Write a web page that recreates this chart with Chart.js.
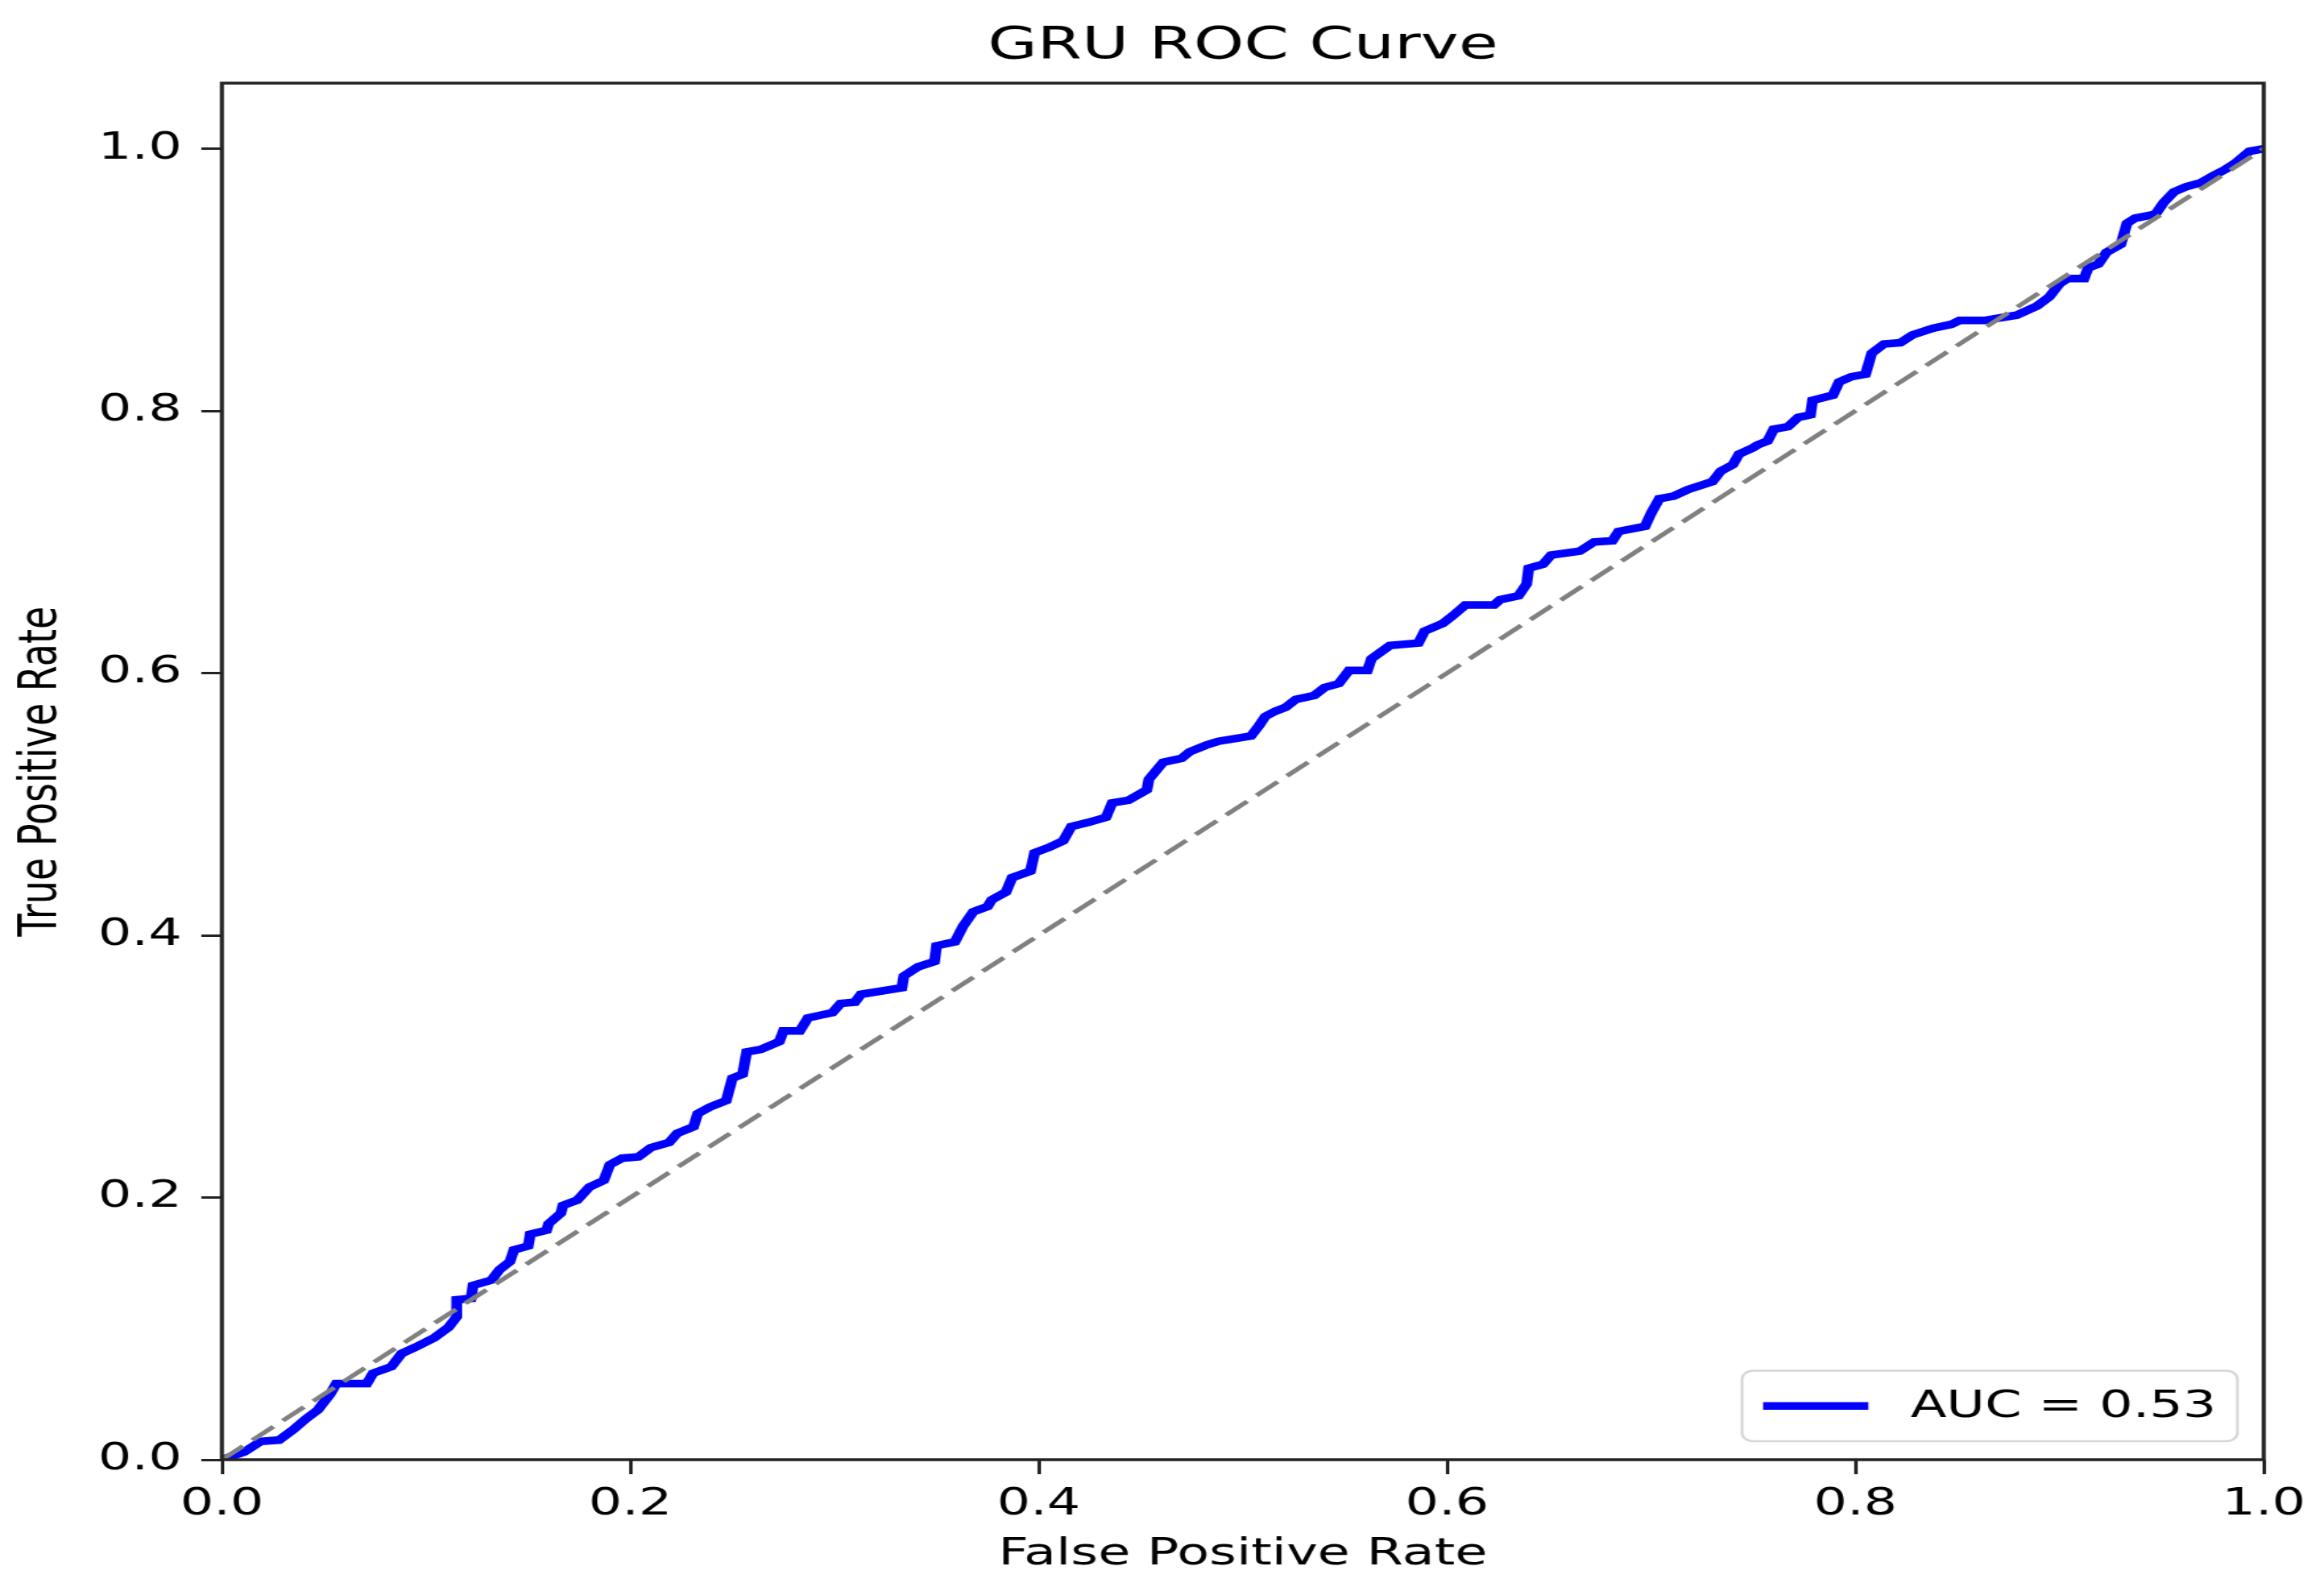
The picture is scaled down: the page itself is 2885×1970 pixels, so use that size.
<!DOCTYPE html>
<html lang="en">
<head>
  <meta charset="UTF-8" />
  <title>GRU ROC Curve</title>
  <script src="https://cdn.jsdelivr.net/npm/chart.js"></script>
  <style>
    html, body {
      margin: 0;
      padding: 0;
      background: #ffffff;
      overflow: hidden;
    }
    /* the reference picture is stretched sideways, so the chart is drawn narrow and widened */
    .stretch {
      width: 2032px;
      height: 1970px;
      transform: scaleX(1.42);
      transform-origin: 0 0;
    }
  </style>
</head>
<body>
  <div class="stretch">
    <canvas id="rocChart" width="2032" height="1970" style="width:2032px;height:1970px;"></canvas>
  </div>

  <script>
    const fpr = [
      0, 0.011, 0.019, 0.028, 0.035, 0.041, 0.047, 0.053, 0.056, 0.071,
      0.074, 0.083, 0.088, 0.095, 0.104, 0.111, 0.115, 0.115, 0.122, 0.123,
      0.132, 0.136, 0.141, 0.143, 0.150, 0.151, 0.159, 0.160, 0.166, 0.167,
      0.174, 0.180, 0.187, 0.190, 0.196, 0.204, 0.210, 0.219, 0.223, 0.231,
      0.233, 0.239, 0.247, 0.250, 0.255, 0.257, 0.264, 0.273, 0.275, 0.283,
      0.287, 0.299, 0.303, 0.310, 0.313, 0.333, 0.334, 0.341, 0.349, 0.350,
      0.359, 0.363, 0.368, 0.375, 0.377, 0.384, 0.387, 0.396, 0.398, 0.405,
      0.412, 0.416, 0.424, 0.433, 0.436, 0.444, 0.453, 0.454, 0.461, 0.470,
      0.474, 0.482, 0.488, 0.504, 0.508, 0.511, 0.516, 0.521, 0.526, 0.535,
      0.540, 0.547, 0.552, 0.561, 0.563, 0.572, 0.586, 0.589, 0.598, 0.603,
      0.609, 0.623, 0.626, 0.635, 0.639, 0.640, 0.647, 0.651, 0.665, 0.672,
      0.681, 0.684, 0.697, 0.700, 0.704, 0.711, 0.718, 0.730, 0.734, 0.740,
      0.743, 0.750, 0.752, 0.757, 0.760, 0.767, 0.772, 0.778, 0.779, 0.789,
      0.792, 0.798, 0.805, 0.808, 0.814, 0.822, 0.828, 0.838, 0.847, 0.851,
      0.863, 0.879, 0.889, 0.895, 0.900, 0.904, 0.912, 0.914, 0.919, 0.923,
      0.930, 0.933, 0.937, 0.947, 0.951, 0.956, 0.962, 0.969, 0.976, 0.981,
      0.986, 0.993, 1
    ];
    const tpr = [
      0, 0.006, 0.014, 0.015, 0.023, 0.031, 0.038, 0.050, 0.058, 0.058,
      0.066, 0.071, 0.081, 0.086, 0.093, 0.101, 0.109, 0.122, 0.123, 0.133,
      0.137, 0.145, 0.151, 0.160, 0.163, 0.172, 0.175, 0.180, 0.188, 0.194,
      0.198, 0.208, 0.213, 0.225, 0.230, 0.231, 0.238, 0.242, 0.249, 0.254,
      0.264, 0.269, 0.274, 0.291, 0.294, 0.311, 0.313, 0.319, 0.327, 0.327,
      0.337, 0.341, 0.348, 0.349, 0.355, 0.360, 0.369, 0.376, 0.380, 0.392,
      0.395, 0.407, 0.418, 0.422, 0.427, 0.433, 0.444, 0.449, 0.463, 0.467,
      0.472, 0.483, 0.486, 0.490, 0.501, 0.503, 0.511, 0.519, 0.532, 0.535,
      0.540, 0.545, 0.548, 0.552, 0.560, 0.567, 0.571, 0.574, 0.580, 0.583,
      0.589, 0.592, 0.602, 0.602, 0.611, 0.621, 0.623, 0.632, 0.638, 0.644,
      0.652, 0.652, 0.656, 0.659, 0.668, 0.680, 0.683, 0.690, 0.693, 0.700,
      0.701, 0.708, 0.712, 0.722, 0.733, 0.735, 0.740, 0.746, 0.754, 0.759,
      0.767, 0.772, 0.774, 0.777, 0.786, 0.788, 0.795, 0.797, 0.808, 0.812,
      0.822, 0.826, 0.828, 0.844, 0.851, 0.852, 0.858, 0.863, 0.866, 0.869,
      0.869, 0.873, 0.880, 0.887, 0.897, 0.901, 0.901, 0.909, 0.912, 0.921,
      0.927, 0.943, 0.947, 0.950, 0.959, 0.967, 0.971, 0.974, 0.980, 0.984,
      0.989, 0.998, 1
    ];
    const chanceX = [0, 1];
    const chanceY = [0, 1];
    const aucLabel = "AUC = 0.53";
    const xTicks = [0, 0.2, 0.4, 0.6, 0.8, 1.0];
    const yTicks = [0, 0.2, 0.4, 0.6, 0.8, 1.0];

    const font = "'DejaVu Sans', 'Liberation Sans', sans-serif";
    const axisColor = "#222222";

    function toPoints(xs, ys) {
      return xs.map((x, i) => ({ x: x, y: ys[i] }));
    }

    // four-sided frame like matplotlib spines
    const framePlugin = {
      id: "frame",
      afterDatasetsDraw(chart) {
        const { ctx, chartArea } = chart;
        ctx.save();
        ctx.strokeStyle = axisColor;
        ctx.lineWidth = 3.5;
        ctx.strokeRect(chartArea.left, chartArea.top,
                       chartArea.right - chartArea.left, chartArea.bottom - chartArea.top);
        ctx.restore();
      }
    };

    // legend in the lower right corner of the plot
    const cornerLegend = {
      id: "cornerLegend",
      afterDraw(chart) {
        const { ctx, chartArea } = chart;
        const ds = chart.data.datasets.find(d => d.label);
        const size = 46;
        const pad = 0.4 * size, handle = 2 * size, gap = 0.8 * size;
        ctx.save();
        ctx.font = size + "px " + font;
        const textW = ctx.measureText(ds.label).width;
        const w = pad + handle + gap + textW + pad;
        const h = pad * 2 + 1.1 * size;
        const right = chartArea.right - 0.5 * size;
        const bottom = chartArea.bottom - 0.5 * size;
        const left = right - w, top = bottom - h;
        ctx.beginPath();
        ctx.roundRect(left, top, w, h, 10);
        ctx.fillStyle = "rgba(255,255,255,0.8)";
        ctx.fill();
        ctx.strokeStyle = "#d6d6d6";
        ctx.lineWidth = 2.5;
        ctx.stroke();
        const midY = top + h / 2;
        ctx.beginPath();
        ctx.moveTo(left + pad, midY);
        ctx.lineTo(left + pad + handle, midY);
        ctx.strokeStyle = ds.borderColor;
        ctx.lineWidth = ds.borderWidth;
        ctx.stroke();
        ctx.fillStyle = "#000000";
        ctx.textBaseline = "middle";
        ctx.textAlign = "left";
        ctx.fillText(ds.label, left + pad + handle + gap, midY + 2);
        ctx.restore();
      }
    };

    const ctx = document.getElementById("rocChart").getContext("2d");

    new Chart(ctx, {
      type: "line",
      data: {
        datasets: [
          {
            data: toPoints(chanceX, chanceY),
            borderColor: "#808080",
            borderWidth: 5,
            borderDash: [25, 11],
            pointRadius: 0,
            fill: false
          },
          {
            label: aucLabel,
            data: toPoints(fpr, tpr),
            borderColor: "#0000ff",
            borderWidth: 9.5,
            borderJoinStyle: "miter",
            pointRadius: 0,
            tension: 0,
            fill: false
          }
        ]
      },
      options: {
        responsive: false,
        animation: false,
        devicePixelRatio: 1,
        layout: { padding: { left: 0, right: 53, top: 0, bottom: 0 } },
        plugins: {
          legend: { display: false },
          tooltip: { enabled: false },
          title: {
            display: true,
            text: "GRU ROC Curve",
            fullSize: false,
            color: "#000000",
            font: { family: font, size: 56, weight: "normal" },
            padding: { top: 24, bottom: 12 }
          }
        },
        scales: {
          x: {
            type: "linear",
            min: 0,
            max: 1,
            afterBuildTicks: scale => { scale.ticks = xTicks.map(v => ({ value: v })); },
            afterFit: scale => { scale.height = 158; },
            border: { display: false },
            grid: {
              drawOnChartArea: false,
              tickLength: 18,
              tickWidth: 3,
              tickColor: axisColor
            },
            ticks: {
              padding: 10,
              color: "#000000",
              font: { family: font, size: 46 },
              maxRotation: 0,
              callback: v => v.toFixed(1)
            },
            title: {
              display: true,
              text: "False Positive Rate",
              color: "#000000",
              font: { family: font, size: 46 },
              padding: { top: 0, bottom: 12 }
            }
          },
          y: {
            type: "linear",
            min: 0,
            max: 1.05,
            afterBuildTicks: scale => { scale.ticks = yTicks.map(v => ({ value: v })); },
            afterFit: scale => { scale.width = 194; },
            border: { display: false },
            grid: {
              drawOnChartArea: false,
              tickLength: 18,
              tickWidth: 3,
              tickColor: axisColor
            },
            ticks: {
              padding: 17,
              color: "#000000",
              font: { family: font, size: 46 },
              callback: v => v.toFixed(1)
            },
            title: {
              display: true,
              text: "True Positive Rate",
              color: "#000000",
              font: { family: font, size: 46 },
              padding: { top: 9, bottom: 0 }
            }
          }
        }
      },
      plugins: [framePlugin, cornerLegend]
    });
  </script>
</body>
</html>
